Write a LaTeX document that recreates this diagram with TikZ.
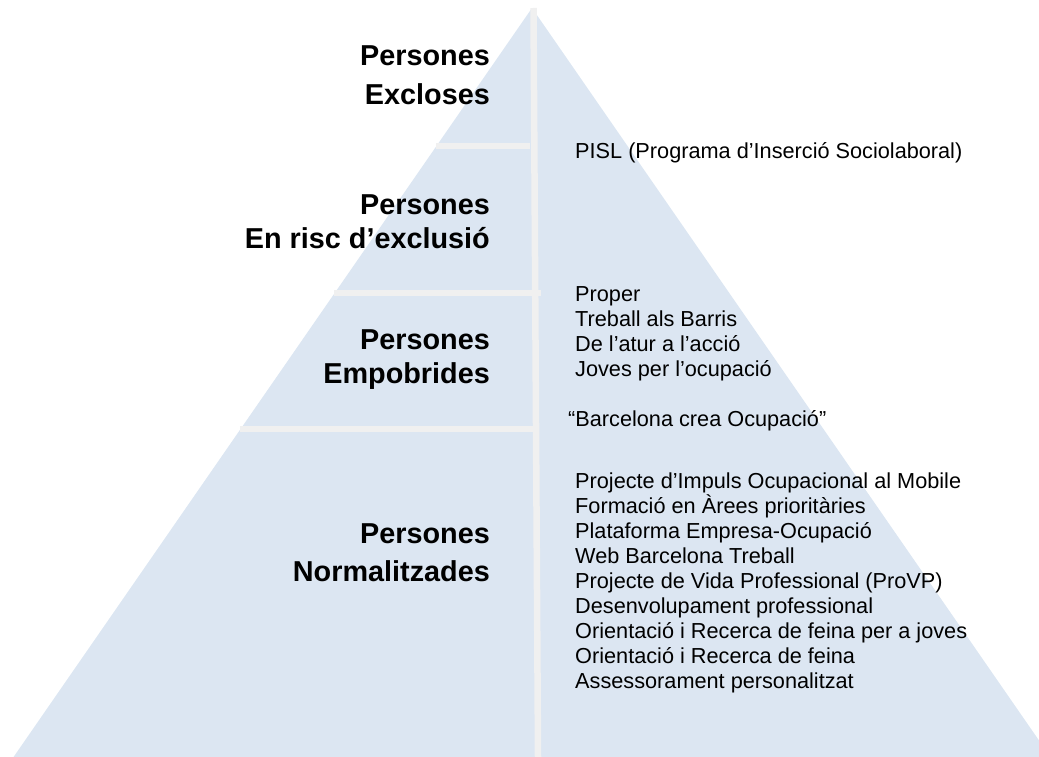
\documentclass[tikz,border=0pt]{standalone}
\usepackage{fontspec}
\setmainfont{Liberation Sans}
\definecolor{pyrblue}{HTML}{DCE6F2}
\definecolor{bandgray}{HTML}{F0F0F0}
\begin{document}
\begin{tikzpicture}[x=1pt,y=-1pt,every node/.style={inner sep=0pt}]
\tikzstyle{level}=[font=\fontsize{28.8}{34}\selectfont\bfseries,align=right,anchor=base east]
\tikzstyle{prog}=[font=\fontsize{21.7}{25}\selectfont,align=left,anchor=base west]
\tikzstyle{band}=[draw=bandgray,line width=6.5pt]
\useasboundingbox (0,0) rectangle (1039,757);

% pyramid
\coordinate (apex) at (532,8);
\coordinate (bl) at (8,765);
\coordinate (br) at (1056,765);
\begin{scope}
\clip (0,0) rectangle (1039,757);
\fill[pyrblue] (apex) -- (br) -- (bl) -- cycle;
\end{scope}
\path[band] (533.5,8) -- (538,757);
\path[band] (436,146) -- (530,146);
\path[band] (334,293) -- (541,293);
\path[band] (240,429) -- (533,429);

% levels (base = last line)
\node[level](l1) at (490,105){Persones\\[5pt]Excloses};
\node[level](l2) at (490,248){Persones\\En risc d’exclusió};
\node[level](l3) at (490,383){Persones\\Empobrides};
\node[level](l4) at (490,581){Persones\\[4pt]Normalitzades};

% programmes
\node[prog](p1) at (575,159){PISL (Programa d’Inserció Sociolaboral)};
\node[prog](p2) at (575,376){Proper\\Treball als Barris\\De l’atur a l’acció\\Joves per l’ocupació};
\node[prog](p3) at (568,426){“Barcelona crea Ocupació”};
\node[prog](p4) at (575,688){Projecte d’Impuls Ocupacional al Mobile\\Formació en Àrees prioritàries\\Plataforma Empresa-Ocupació\\Web Barcelona Treball\\Projecte de Vida Professional (ProVP)\\Desenvolupament professional\\Orientació i Recerca de feina per a joves\\Orientació i Recerca de feina\\Assessorament personalitzat};
\end{tikzpicture}
\end{document}
